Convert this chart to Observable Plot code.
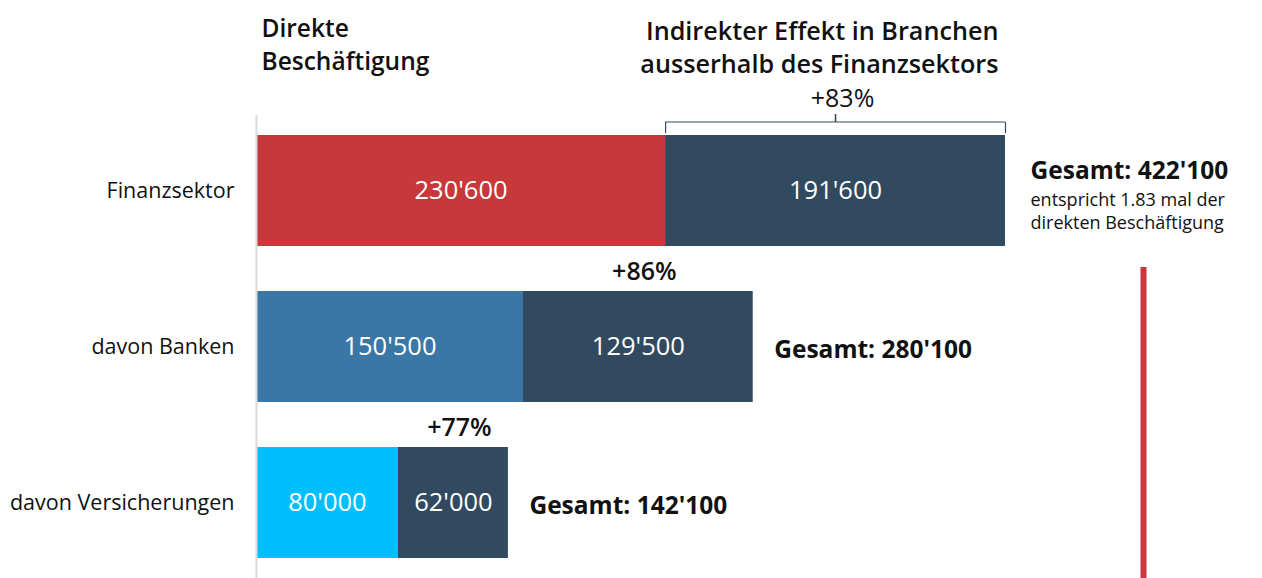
<!DOCTYPE html>
<html><head><meta charset="utf-8">
<script src="https://cdn.jsdelivr.net/npm/d3@7"></script>
<script src="https://cdn.jsdelivr.net/npm/@observablehq/plot@0.6"></script>
<style>
body{margin:0;background:#fff;font-family:"Open Sans",sans-serif;}
#chart svg{overflow:visible;display:block;}
</style>
</head><body><div id="chart"></div>
<script>
const categories = ["Finanzsektor", "davon Banken", "davon Versicherungen"];
const directValues = [230600, 150500, 80000];
const indirectValues = [191600, 129500, 62000];
const directColors = ["#C8383A", "#3A77A6", "#00BFFF"];
const indirectColor = "#324A5F";
const pctLabels = ["+83%", "+86%", "+77%"];
const totalLabels = ["Gesamt: 422'100", "Gesamt: 280'100", "Gesamt: 142'100"];
const noteText = "entspricht 1.83 mal der\ndirekten Beschäftigung";
const titleDirect = "Direkte\nBeschäftigung";
const titleIndirect = "Indirekter Effekt in Branchen\nausserhalb des Finanzsektors";
const refValue = 500000;
const xMax = 567080;

const fmt = d3.formatLocale({decimal: ".", thousands: "'", grouping: [3], currency: ["", ""]}).format(",");

const rows = categories.map((c, i) => ({
  cat: c, direct: directValues[i], indirect: indirectValues[i],
  total: directValues[i] + indirectValues[i],
  pct: pctLabels[i], totalLabel: totalLabels[i], color: directColors[i]
}));
const segments = rows.flatMap(r => [
  {cat: r.cat, x1: 0, x2: r.direct, value: r.direct, color: r.color},
  {cat: r.cat, x1: r.direct, x2: r.total, value: r.total - r.direct, color: indirectColor}
]);
const first = rows.slice(0, 1);
const others = rows.slice(1);
const bracketEnds = first.flatMap(r => [{cat: r.cat, x: r.direct}, {cat: r.cat, x: r.total}]);
const dark = "#111";

const chart = Plot.plot({
  width: 1262, height: 578,
  marginLeft: 256, marginRight: 0, marginTop: 115, marginBottom: 0,
  style: {fontFamily: "'Open Sans', sans-serif", background: "#fff", overflow: "visible"},
  x: {domain: [0, xMax], axis: null},
  y: {domain: categories, paddingInner: 0.2885, paddingOuter: 0.128, label: null},
  color: {type: "identity"},
  marks: [
    Plot.axisY({tickSize: 0, tickPadding: 22, fontSize: 21.5, color: dark, label: null}),
    Plot.barX(segments, {y: "cat", x1: "x1", x2: "x2", fill: "color"}),
    Plot.ruleX([0], {stroke: "#dcdcdc", strokeWidth: 2}),
    Plot.text(segments, {y: "cat", x: d => (d.x1 + d.x2) / 2, text: d => fmt(d.value), fill: "white", fontSize: 25.5}),
    // titles
    Plot.text([titleDirect], {x: 0, frameAnchor: "top", text: d => d, textAnchor: "start", lineAnchor: "top", dx: 5, dy: -101, fontSize: 24.5, fontWeight: 600, lineHeight: 1.32, fill: dark}),
    Plot.text(first, {x: "total", frameAnchor: "top", text: () => titleIndirect, textAnchor: "end", lineAnchor: "top", dx: -7, dy: -99, fontSize: 25.2, fontWeight: 600, lineHeight: 1.32, fill: dark}),
    // bracket
    Plot.ruleY(first, {y: "cat", x1: "direct", x2: "total", dy: -69, stroke: indirectColor, strokeWidth: 1.2}),
    Plot.tickX(bracketEnds, {x: "x", y: "cat", insetBottom: 100, dy: -13, stroke: indirectColor, strokeWidth: 1.2}),
    Plot.tickX(first, {x: d => (d.direct + d.total) / 2, y: "cat", insetBottom: 103, dy: -21, stroke: indirectColor, strokeWidth: 1.6}),
    // percent labels
    Plot.text(first, {y: "cat", x: d => (d.direct + d.total) / 2, text: "pct", dx: 7, dy: -92, fontSize: 25, fontWeight: 500, fill: dark}),
    Plot.text(others, {y: "cat", x: d => (d.direct + d.total) / 2, text: "pct", dx: 6, dy: -75, fontSize: 25, fontWeight: 600, fill: dark}),
    // totals
    Plot.text(first, {y: "cat", x: "total", text: "totalLabel", textAnchor: "start", dx: 25, dy: -20, fontSize: 24.5, fontWeight: 700, fill: dark}),
    Plot.text(first, {y: "cat", x: "total", text: () => noteText, textAnchor: "start", lineAnchor: "top", dx: 25, dy: -1, fontSize: 18, lineHeight: 1.28, fill: dark}),
    Plot.text(others, {y: "cat", x: "total", text: "totalLabel", textAnchor: "start", dx: 21, dy: 3, fontSize: 24.5, fontWeight: 700, fill: dark}),
    // reference rule
    Plot.ruleX([refValue], {stroke: "#C8383A", strokeWidth: 6, insetTop: 152})
  ]
});
document.getElementById("chart").appendChild(chart);
</script>
</body></html>
